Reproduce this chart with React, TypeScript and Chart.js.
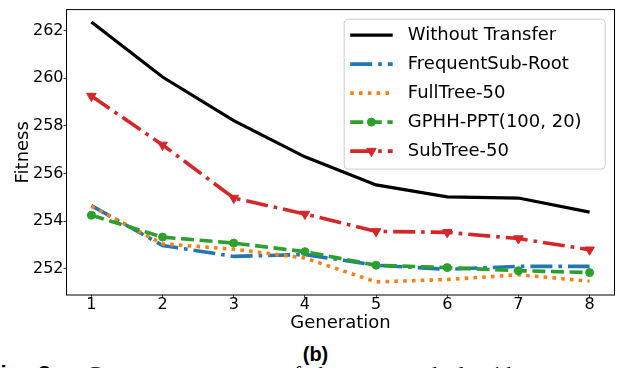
import React, { useEffect, useRef } from "react";
import { Chart, registerables } from "chart.js";

Chart.register(...registerables);

const generations = [1, 2, 3, 4, 5, 6, 7, 8];
const xTicks = [1, 2, 3, 4, 5, 6, 7, 8];
const yTicks = [252, 254, 256, 258, 260, 262];

const withoutTransfer = [262.36, 260.05, 258.22, 256.7, 255.52, 255.02, 254.97, 254.38];
const frequentSubRoot = [254.65, 252.98, 252.52, 252.6, 252.15, 251.98, 252.1, 252.1];
const fullTree50 = [254.62, 253.05, 252.82, 252.45, 251.45, 251.55, 251.75, 251.48];
const gphhPpt = [254.25, 253.33, 253.08, 252.72, 252.15, 252.05, 251.92, 251.84];
const subTree50 = [259.25, 257.2, 254.97, 254.3, 253.57, 253.53, 253.27, 252.8];

const seriesNames = [
  "Without Transfer",
  "FrequentSub-Root",
  "FullTree-50",
  "GPHH-PPT(100, 20)",
  "SubTree-50",
];

const FONT = "'DejaVu Sans', sans-serif";

type Marker = "none" | "circle" | "tri";

const drawMarker = (ctx: CanvasRenderingContext2D, kind: Marker, x: number, y: number, color: string) => {
  if (kind === "none") return;
  ctx.save();
  ctx.setLineDash([]);
  ctx.fillStyle = color;
  ctx.strokeStyle = color;
  ctx.lineWidth = 1;
  ctx.beginPath();
  if (kind === "circle") {
    ctx.arc(x, y, 4, 0, Math.PI * 2);
  } else {
    const r = 5.5;
    ctx.moveTo(x - r * 0.866, y - r * 0.5);
    ctx.lineTo(x + r * 0.866, y - r * 0.5);
    ctx.lineTo(x, y + r);
    ctx.closePath();
  }
  ctx.fill();
  ctx.stroke();
  ctx.restore();
};

const markers: Marker[] = ["none", "none", "none", "circle", "tri"];

const framePlugin = {
  id: "mplFrame",
  afterDatasetsDraw(chart: any) {
    const { ctx, chartArea: a } = chart;
    ctx.save();
    ctx.strokeStyle = "#000";
    ctx.lineWidth = 1;
    ctx.setLineDash([]);
    ctx.strokeRect(a.left, a.top, a.right - a.left, a.bottom - a.top);
    ctx.restore();
  },
};

const legendPlugin = {
  id: "mplLegend",
  afterDraw(chart: any) {
    const { ctx, chartArea: a } = chart;
    const left = a.right - 270.3;
    const top = a.top + 9.5;
    const w = 261;
    const h = 150;
    ctx.save();
    ctx.beginPath();
    const r = 4;
    ctx.moveTo(left + r, top);
    ctx.arcTo(left + w, top, left + w, top + h, r);
    ctx.arcTo(left + w, top + h, left, top + h, r);
    ctx.arcTo(left, top + h, left, top, r);
    ctx.arcTo(left, top, left + w, top, r);
    ctx.closePath();
    ctx.fillStyle = "rgba(255,255,255,0.8)";
    ctx.fill();
    ctx.strokeStyle = "#cccccc";
    ctx.lineWidth = 1;
    ctx.stroke();

    chart.data.datasets.forEach((ds: any, i: number) => {
      const y = top + 16 + i * 29;
      const x0 = left + 6;
      const x1 = left + 48.5;
      ctx.save();
      ctx.beginPath();
      ctx.strokeStyle = ds.borderColor;
      ctx.lineWidth = ds.borderWidth;
      ctx.setLineDash(ds.borderDash || []);
      ctx.lineCap = "butt";
      ctx.moveTo(x0, y);
      ctx.lineTo(x1, y);
      ctx.stroke();
      ctx.restore();
      drawMarker(ctx, markers[i], (x0 + x1) / 2, y, ds.borderColor);
      ctx.save();
      ctx.fillStyle = "#000";
      ctx.font = `18px ${FONT}`;
      ctx.textBaseline = "middle";
      ctx.textAlign = "left";
      ctx.fillText(ds.label, left + 63.6, y);
      ctx.restore();
    });
    ctx.restore();
  },
};

const mk = (label: string, data: number[], color: string, width: number, dash: number[], marker: Marker, order: number) => ({
  label,
  data: generations.map((g, i) => ({ x: g, y: data[i] })),
  borderColor: color,
  backgroundColor: color,
  borderWidth: width,
  borderDash: dash,
  pointRadius: marker === "none" ? 0 : marker === "circle" ? 4 : 5.5,
  pointStyle: marker === "tri" ? "triangle" : "circle",
  pointRotation: marker === "tri" ? 180 : 0,
  pointBorderWidth: 1,
  pointBackgroundColor: color,
  pointBorderColor: color,
  tension: 0,
  fill: false,
  order,
});

export default function App() {
  const ref = useRef<HTMLCanvasElement | null>(null);
  useEffect(() => {
    document.body.style.margin = "0";
    if (!ref.current) return;
    const chart = new Chart(ref.current, {
      type: "line",
      data: {
        datasets: [
          mk(seriesNames[0], withoutTransfer, "#000000", 3.2, [], "none", 4),
          mk(seriesNames[1], frequentSubRoot, "#1f77b4", 3.6, [22, 6, 3.6, 6], "none", 3),
          mk(seriesNames[2], fullTree50, "#ff7f0e", 3.6, [3.6, 5.2], "none", 2),
          mk(seriesNames[3], gphhPpt, "#2ca02c", 3.6, [13, 5.6], "circle", 1),
          mk(seriesNames[4], subTree50, "#d62728", 3.6, [22, 6, 3.6, 6], "tri", 0),
        ] as any,
      },
      options: {
        animation: false,
        responsive: false,
        devicePixelRatio: 1,
        layout: { padding: { left: 0, right: 5, top: 4.5, bottom: 0 } },
        plugins: { legend: { display: false }, tooltip: { enabled: false } },
        scales: {
          x: {
            type: "linear",
            min: 0.65,
            max: 8.35,
            afterBuildTicks: (s: any) => {
              s.ticks = xTicks.map((v) => ({ value: v }));
            },
            afterFit: (s: any) => {
              s.height = 45;
            },
            grid: { drawOnChartArea: false, drawTicks: true, tickLength: 3, color: "#444", lineWidth: 1 },
            border: { display: false },
            ticks: { color: "#000", font: { family: FONT, size: 16 }, padding: -3, maxRotation: 0, autoSkip: false },
            title: { display: true, text: "Generation", color: "#000", font: { family: FONT, size: 18 }, padding: { top: 0, bottom: 5.5 } },
          },
          y: {
            type: "linear",
            min: 250.9,
            max: 262.88,
            afterBuildTicks: (s: any) => {
              s.ticks = yTicks.map((v) => ({ value: v }));
            },
            afterFit: (s: any) => {
              s.width = 66.5;
            },
            grid: { drawOnChartArea: false, drawTicks: true, tickLength: 3, color: "#444", lineWidth: 1 },
            border: { display: false },
            ticks: { color: "#000", font: { family: FONT, size: 16 }, padding: 0 },
            title: { display: true, text: "Fitness", color: "#000", font: { family: FONT, size: 18 }, padding: { top: 13, bottom: 0 } },
          },
        },
      } as any,
      plugins: [framePlugin, legendPlugin],
    });
    return () => chart.destroy();
  }, []);

  return (
    <div style={{ position: "fixed", left: 0, top: 0, width: 621, height: 368, overflow: "hidden", background: "#fff" }}>
      <canvas ref={ref} width={621} height={340} style={{ position: "absolute", left: 0, top: 0, width: 621, height: 340 }} />
      <div
        style={{
          position: "absolute",
          left: 315.5,
          top: 344.4,
          transform: "translateX(-50%)",
          fontFamily: "'Liberation Sans', sans-serif",
          fontWeight: "bold",
          fontSize: 20,
          lineHeight: "20px",
          whiteSpace: "nowrap",
        }}
      >
        (b)
      </div>
      <div
        style={{
          position: "absolute",
          left: -13,
          top: 363,
          fontSize: 22,
          lineHeight: "22px",
          whiteSpace: "nowrap",
          fontFamily: "'Liberation Serif', serif",
          wordSpacing: 6,
        }}
      >
        <b style={{ fontFamily: "'Liberation Sans', sans-serif" }}>Fig. 2.</b>
        <span style={{ marginLeft: 30 }}>Convergence curves of the compared algorithms</span>
      </div>
    </div>
  );
}
